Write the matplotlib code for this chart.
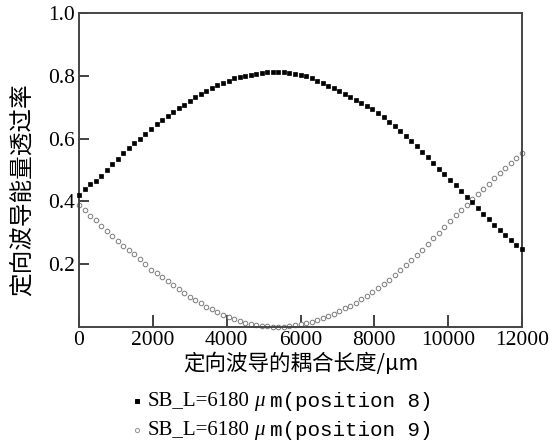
import matplotlib.pyplot as plt
from matplotlib.lines import Line2D
import numpy as np

# coupling length (um), one reading every 150 um
length_um = np.arange(0, 12001, 150)

# energy transmittance, position 8 (filled squares)
trans_pos8 = [
    0.420, 0.438, 0.454, 0.466, 0.482, 0.500, 0.518, 0.536, 0.554, 0.570,
    0.585, 0.600, 0.615, 0.630, 0.645, 0.660, 0.672, 0.684, 0.696, 0.708,
    0.720, 0.731, 0.741, 0.752, 0.761, 0.770, 0.778, 0.785, 0.793, 0.797,
    0.800, 0.804, 0.807, 0.809, 0.811, 0.813, 0.813, 0.812, 0.809, 0.806,
    0.804, 0.799, 0.793, 0.785, 0.776, 0.768, 0.760, 0.752, 0.743, 0.734,
    0.724, 0.714, 0.704, 0.694, 0.681, 0.668, 0.654, 0.640, 0.625, 0.609,
    0.592, 0.575, 0.557, 0.540, 0.522, 0.504, 0.486, 0.468, 0.451, 0.433,
    0.415, 0.397, 0.379, 0.361, 0.343, 0.325, 0.310, 0.294, 0.278, 0.261,
    0.247]

# energy transmittance, position 9 (open circles)
trans_pos9 = [
    0.390, 0.372, 0.355, 0.340, 0.323, 0.305, 0.289, 0.273, 0.259, 0.246,
    0.232, 0.216, 0.200, 0.183, 0.171, 0.160, 0.148, 0.135, 0.120, 0.107,
    0.095, 0.085, 0.075, 0.065, 0.056, 0.048, 0.039, 0.031, 0.024, 0.018,
    0.013, 0.009, 0.006, 0.004, 0.002, 0.001, 0.001, 0.001, 0.002, 0.005,
    0.008, 0.012, 0.017, 0.023, 0.029, 0.036, 0.043, 0.051, 0.059, 0.068,
    0.078, 0.089, 0.100, 0.111, 0.124, 0.137, 0.151, 0.165, 0.181, 0.197,
    0.213, 0.229, 0.246, 0.264, 0.282, 0.300, 0.320, 0.339, 0.356, 0.373,
    0.390, 0.407, 0.423, 0.439, 0.456, 0.473, 0.489, 0.505, 0.521, 0.538,
    0.555]

xticks = [0, 2000, 4000, 6000, 8000, 10000, 12000]
yticks = [0.2, 0.4, 0.6, 0.8, 1.0]

serif = 'Liberation Serif'
cjk = ['Noto Sans CJK SC', 'DejaVu Sans']

W, H = 558, 444
fig = plt.figure(figsize=(W / 100, H / 100), dpi=100)
ax = fig.add_axes([0.1416, 0.2635, 0.7939, 0.7072])

ax.plot(length_um, trans_pos8, ls='none', marker='s', ms=2.3, mfc='black', mec='black',
        mew=0.5, clip_on=False, zorder=3)
ax.plot(length_um, trans_pos9, ls='none', marker='o', ms=3.3, mfc='white', mec='#7a7a7a',
        mew=0.7, clip_on=False, zorder=2)

ax.set_xlim(0, 12000)
ax.set_ylim(0, 1.0)
ax.set_xticks(xticks)
ax.set_yticks(yticks)
ax.set_xticklabels([str(t) for t in xticks], fontfamily=serif, fontsize=15.5)
ax.set_yticklabels([f'{t:.1f}' for t in yticks], fontfamily=serif, fontsize=15.5)
ax.tick_params(direction='in', width=1.3, color='#333333', pad=3)
ax.tick_params(axis='x', length=9)
ax.tick_params(axis='y', length=7)
for s in ax.spines.values():
    s.set_linewidth(1.4)
    s.set_color('#444444')

ax.set_xlabel('定向波导的耦合长度/μm', family=cjk, fontsize=15.5, labelpad=2)
# y label sits a bit below the axes centre in the reference
fig.text(23 / W, 1 - 190 / H, '定向波导能量透过率', family=cjk, fontsize=17,
         rotation=90, ha='center', va='center')

# legend lines below the plot
rows = [(401, 's', 'black', 'black', 2.2, '8'),
        (430, 'o', 'white', '#909090', 3.0, '9')]
for y, mk, fc, ec, ms, pos in rows:
    fy = 1 - y / H
    fig.add_artist(Line2D([137 / W], [fy], marker=mk, ms=ms, mfc=fc, mec=ec,
                          mew=0.7, ls='none', transform=fig.transFigure))
    fig.text(148 / W, fy, 'SB_L=6180', family=serif, fontsize=15,
             va='center', ha='left')
    fig.text(254 / W, fy, 'μ', family=serif, style='italic', fontsize=15,
             va='center', ha='left')
    fig.text(270 / W, fy, f'm(position {pos})', family='Liberation Mono',
             fontsize=15, va='center', ha='left')

fig.savefig('out.png', dpi=100)
